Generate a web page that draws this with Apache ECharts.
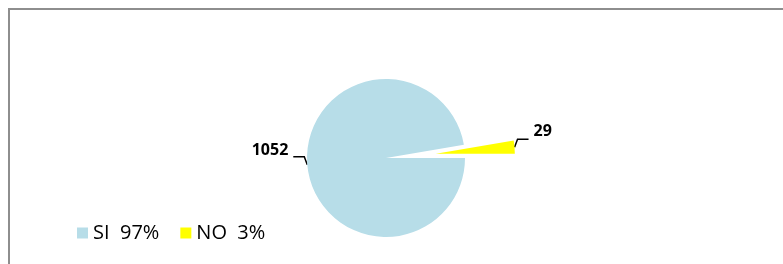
<!DOCTYPE html>
<html>
<head>
<meta charset="utf-8">
<script src="https://cdn.jsdelivr.net/npm/echarts@6/dist/echarts.min.js"></script>
<style>
  html, body { margin: 0; padding: 0; background: #fff; }
  .frame {
    position: absolute;
    left: 8px;
    top: 8px;
    width: 800px;
    height: 300px;
    border-left: 2px solid #8e8e8e;
    border-top: 2px solid #8e8e8e;
  }
  #el { position: absolute; left: 0; top: 0; width: 783px; height: 264px; }
</style>
</head>
<body>
<div class="frame"></div>
<div id="el"></div>
<script>
const categories = ["SI", "NO"];
const values = [1052, 29];
const colorList = ["#b7dde8", "#ffff00"];

const total = values.reduce((a, b) => a + b, 0);
const pct = name => Math.round((values[categories.indexOf(name)] * 100) / total);

const chart = echarts.init(document.getElementById("el"));
const option = {
  animation: false,
  color: colorList,
  legend: {
    data: categories,
    left: 77,
    top: 223,
    padding: 0,
    orient: "horizontal",
    icon: "rect",
    itemWidth: 11,
    itemHeight: 11,
    itemGap: 21,
    selectedMode: false,
    formatter: name => `${name}  ${pct(name)}%`,
    textStyle: {
      color: "#000",
      fontSize: 20,
      fontFamily: "Open Sans"
    }
  },
  series: [
    {
      type: "pie",
      radius: 79,
      center: [386, 158],
      clockwise: false,
      // NO slice sits just above 3 o'clock, SI fills the rest
      startAngle: (360 * values[1]) / total,
      selectedMode: "single",
      selectedOffset: 50,
      emphasis: { disabled: true },
      label: {
        show: true,
        position: "outside",
        // empty spacer line below pushes the number above the leader tail
        formatter: "{v|{c}}\n{s| }",
        rich: {
          v: {
            color: "#000",
            fontSize: 16,
            fontWeight: "bold",
            fontFamily: "Open Sans",
            height: 18,
            lineHeight: 18
          },
          s: { fontSize: 2, height: 30, lineHeight: 30 }
        }
      },
      labelLine: {
        show: true,
        length: 4,
        length2: 10,
        lineStyle: { color: "#000", width: 1.5 }
      },
      // excel-like leader: short kink upward, then a flat tail
      labelLayout: p => {
        if (!p.labelLinePoints) return {};
        const a = p.labelLinePoints[0];
        const dir = p.align === "left" ? 1 : -1;
        const b = [a[0] + dir * 3, a[1] - 8];
        const c = [b[0] + dir * 11, b[1]];
        return { labelLinePoints: [a, b, c] };
      },
      itemStyle: { borderWidth: 0 },
      data: categories.map((name, i) => ({
        name: name,
        value: values[i],
        selected: i === 1
      }))
    }
  ]
};
chart.setOption(option);
</script>
</body>
</html>
